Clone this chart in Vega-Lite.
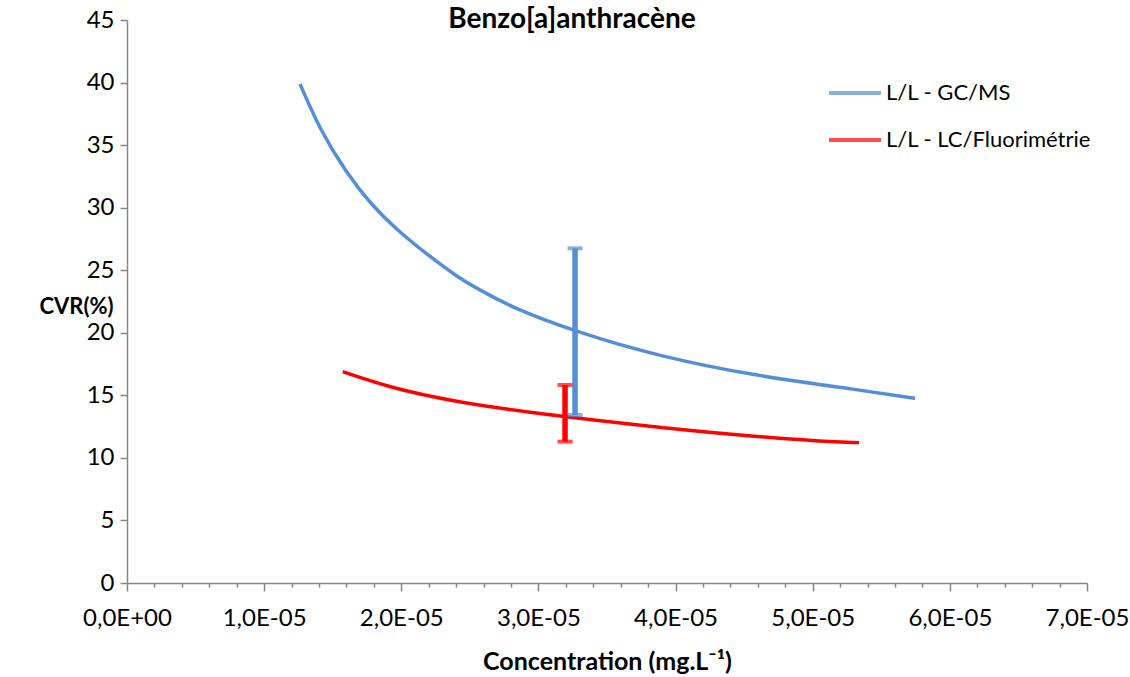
{
  "$schema": "https://vega.github.io/schema/vega-lite/v6.json",
  "width": 960,
  "height": 563,
  "autosize": {"type": "none"},
  "padding": {"left": 127, "top": 20, "right": 43, "bottom": 94},
  "background": "white",
  "config": {
    "font": "Lato",
    "view": {"stroke": null},
    "axis": {
      "grid": false,
      "domainColor": "#868686",
      "domainWidth": 1.5,
      "tickColor": "#868686",
      "tickWidth": 1.5,
      "labelColor": "#000000",
      "labelFontSize": 24,
      "titleColor": "#000000",
      "titleFontWeight": "bold",
      "titleFontSize": 25
    }
  },
  "title": {
    "text": "Benzo[a]anthracène",
    "fontSize": 28,
    "fontWeight": "bold",
    "color": "#000000",
    "anchor": "middle",
    "dx": -35,
    "dy": 30
  },
  "datasets": {
    "curves": [
      {"series": "L/L - GC/MS", "conc": 1.2615e-5, "cv": 39.89},
      {"series": "L/L - GC/MS", "conc": 1.4073e-5, "cv": 36.21},
      {"series": "L/L - GC/MS", "conc": 1.602e-5, "cv": 32.75},
      {"series": "L/L - GC/MS", "conc": 1.772e-5, "cv": 30.35},
      {"series": "L/L - GC/MS", "conc": 1.9666e-5, "cv": 28.22},
      {"series": "L/L - GC/MS", "conc": 2.2095e-5, "cv": 26.08},
      {"series": "L/L - GC/MS", "conc": 2.428e-5, "cv": 24.32},
      {"series": "L/L - GC/MS", "conc": 2.574e-5, "cv": 23.42},
      {"series": "L/L - GC/MS", "conc": 2.793e-5, "cv": 22.09},
      {"series": "L/L - GC/MS", "conc": 3.267e-5, "cv": 20.09},
      {"series": "L/L - GC/MS", "conc": 3.887e-5, "cv": 18.09},
      {"series": "L/L - GC/MS", "conc": 4.616e-5, "cv": 16.49},
      {"series": "L/L - GC/MS", "conc": 5.345e-5, "cv": 15.43},
      {"series": "L/L - GC/MS", "conc": 5.746e-5, "cv": 14.76},
      {"series": "L/L - LC/Fluorimétrie", "conc": 1.573e-5, "cv": 16.89},
      {"series": "L/L - LC/Fluorimétrie", "conc": 1.894e-5, "cv": 15.69},
      {"series": "L/L - LC/Fluorimétrie", "conc": 2.379e-5, "cv": 14.49},
      {"series": "L/L - LC/Fluorimétrie", "conc": 3.072e-5, "cv": 13.43},
      {"series": "L/L - LC/Fluorimétrie", "conc": 3.838e-5, "cv": 12.49},
      {"series": "L/L - LC/Fluorimétrie", "conc": 4.446e-5, "cv": 11.83},
      {"series": "L/L - LC/Fluorimétrie", "conc": 5.077e-5, "cv": 11.3},
      {"series": "L/L - LC/Fluorimétrie", "conc": 5.338e-5, "cv": 11.22}
    ],
    "errors": [
      {"series": "L/L - GC/MS", "conc": 3.267e-5, "low": 13.43, "high": 26.75},
      {"series": "L/L - LC/Fluorimétrie", "conc": 3.194e-5, "low": 11.3, "high": 15.83}
    ]
  },
  "encoding": {
    "x": {
      "field": "conc",
      "type": "quantitative",
      "scale": {"domain": [0, 7e-5], "nice": false, "zero": false},
      "axis": {
        "values": [0, 2e-6, 4e-6, 6e-6, 8e-6, 1e-5, 1.2e-5, 1.4e-5, 1.6e-5, 1.8e-5, 2e-5, 2.2e-5, 2.4e-5, 2.6e-5, 2.8e-5, 3e-5, 3.2e-5, 3.4e-5, 3.6e-5, 3.8e-5, 4e-5, 4.2e-5, 4.4e-5, 4.6e-5, 4.8e-5, 5e-5, 5.2e-5, 5.4e-5, 5.6e-5, 5.8e-5, 6e-5, 6.2e-5, 6.4e-5, 6.6e-5, 6.8e-5, 7e-5],
        "labelExpr": "abs(datum.value*1e5 - round(datum.value*1e5)) < 0.01 ? (round(datum.value*1e5) == 0 ? '0,0E+00' : round(datum.value*1e5) + ',0E-05') : ''",
        "tickSize": {"condition": {"test": "abs(datum.value*1e5 - round(datum.value*1e5)) < 0.01", "value": 8}, "value": 4},
        "labelFlush": false,
        "labelOverlap": false,
        "labelPadding": 15,
        "title": "Concentration (mg.L⁻¹)",
        "titlePadding": 19
      }
    },
    "y": {
      "field": "cv",
      "type": "quantitative",
      "scale": {"domain": [0, 45], "nice": false},
      "axis": {
        "values": [0, 5, 10, 15, 20, 25, 30, 35, 40, 45],
        "tickSize": 7,
        "labelPadding": 6,
        "title": "CVR(%)",
        "titleFontSize": 22,
        "titleAngle": 0,
        "titleAlign": "right",
        "titleBaseline": "middle",
        "titleX": -14,
        "titleY": 286
      }
    },
    "color": {
      "field": "series",
      "type": "nominal",
      "scale": {"domain": ["L/L - GC/MS", "L/L - LC/Fluorimétrie"], "range": ["#558ED5", "#FF0000"]},
      "legend": {
        "orient": "none",
        "legendX": 700,
        "legendY": 45,
        "title": null,
        "symbolType": "stroke",
        "symbolSize": 2700,
        "symbolStrokeWidth": 4,
        "labelFontSize": 22,
        "labelLimit": 400,
        "labelColor": "#000000",
        "labelOffset": 3,
        "rowPadding": 8
      }
    }
  },
  "layer": [
    {
      "data": {"name": "curves"},
      "mark": {"type": "line", "strokeWidth": 3.5, "interpolate": "basis"}
    },
    {
      "data": {"name": "errors"},
      "mark": {"type": "rule", "strokeWidth": 5.5},
      "encoding": {
        "y": {"field": "low", "type": "quantitative"},
        "y2": {"field": "high"}
      }
    },
    {
      "data": {"name": "errors"},
      "mark": {"type": "tick", "orient": "horizontal", "size": 15, "thickness": 4},
      "encoding": {"y": {"field": "low", "type": "quantitative"}}
    },
    {
      "data": {"name": "errors"},
      "mark": {"type": "tick", "orient": "horizontal", "size": 15, "thickness": 4},
      "encoding": {"y": {"field": "high", "type": "quantitative"}}
    }
  ]
}
